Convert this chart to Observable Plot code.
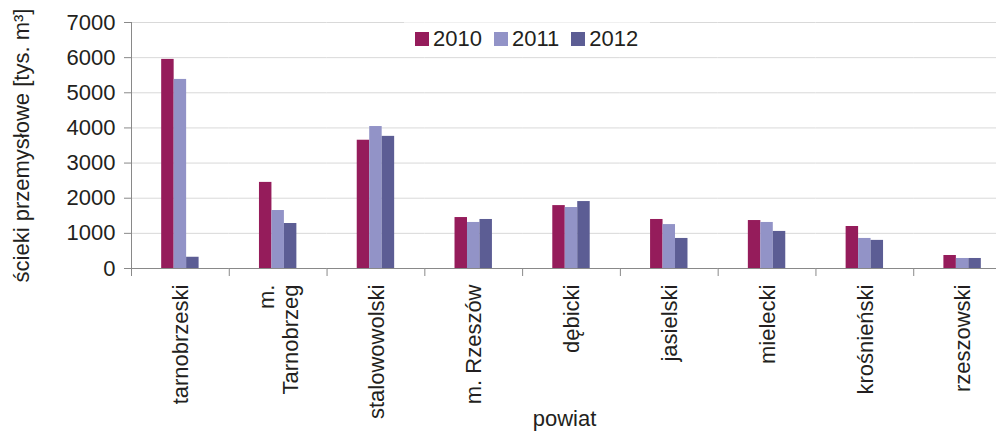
<!DOCTYPE html>
<html>
<head>
<meta charset="utf-8">
<script src="https://cdn.jsdelivr.net/npm/d3@7"></script>
<script src="https://cdn.jsdelivr.net/npm/@observablehq/plot@0.6"></script>
<style>
  html, body { margin: 0; padding: 0; background: #fff; overflow: hidden; }
  #wrap { position: relative; width: 996px; height: 431px; overflow: hidden;
          font-family: "Liberation Sans", Arial, sans-serif; color: #231f20; }
  #wrap svg { overflow: hidden; display: block; }
  #legend { position: absolute; left: 404px; top: 22px; width: 246px; height: 34px;
            background: rgba(255,255,255,0.6); display: flex; align-items: center;
            font-size: 22px; line-height: 1; }
  #legend .sw { display: inline-block; width: 14px; height: 14px; margin-right: 4px; }
  #legend .it { display: inline-flex; align-items: center; margin-left: 12px; }
  #legend .it:first-child { margin-left: 11px; }
</style>
</head>
<body>
<div id="wrap"></div>
<script>
// ---- data ----
const powiaty = ["tarnobrzeski", "m.\nTarnobrzeg", "stalowowolski", "m. Rzeszów", "dębicki",
                 "jasielski", "mielecki", "krośnieński", "rzeszowski"];
const years = ["2010", "2011", "2012"];
const v2010 = [5950, 2450, 3650, 1450, 1790, 1395, 1365, 1195, 370];
const v2011 = [5380, 1650, 4040, 1310, 1735, 1250, 1310, 855, 285];
const v2012 = [320, 1280, 3760, 1395, 1905, 855, 1055, 800, 285];
const yTicks = [0, 1000, 2000, 3000, 4000, 5000, 6000, 7000];
const colors = ["#951c5b", "#9293c7", "#5c5d94"];
const yTitle = "ścieki przemysłowe [tys. m³]";
const xTitle = "powiat";

const series = [v2010, v2011, v2012];
const data = powiaty.flatMap((p, i) => series.map((s, k) => ({powiat: p, rok: years[k], value: s[i]})));

const axisGray = "#898989";

const chart = Plot.plot({
  width: 996,
  height: 431,
  marginLeft: 131,
  marginRight: -15,
  marginTop: 22,
  marginBottom: 163,
  style: {fontFamily: "'Liberation Sans', Arial, sans-serif", fontSize: "22px", color: "#231f20", background: "transparent"},
  fx: {domain: powiaty, padding: 0, round: false},
  x: {domain: years, paddingInner: 0, paddingOuter: 2.42, align: 0.5, round: false, axis: null},
  y: {domain: [0, 7000]},
  color: {domain: years, range: colors},
  marks: [
    Plot.gridY(yTicks, {stroke: "#d9d9d9", strokeOpacity: 1}),
    Plot.barY(data, {fx: "powiat", x: "rok", y: "value", fill: "rok"}),
    Plot.ruleY([0], {stroke: axisGray}),
    Plot.frame({anchor: "left", stroke: axisGray, strokeOpacity: 1, insetTop: 246, insetBottom: -7}),
    Plot.frame({anchor: "left", stroke: axisGray, strokeOpacity: 1, insetBottom: -7, facetAnchor: "left"}),
    Plot.axisY(yTicks, {
      tickSize: 7, tickPadding: 9, stroke: axisGray, fill: "#231f20",
      tickFormat: d => String(d),
      label: yTitle, labelAnchor: "center", labelOffset: 118, labelArrow: "none"
    }),
    Plot.axisFx({
      anchor: "bottom",
      tickSize: 0, tickPadding: 16, tickRotate: -90, textAnchor: "end", lineAnchor: "middle",
      fill: "#231f20", lineHeight: 1.1, label: null
    }),
    Plot.text([xTitle], {
      facet: "super", frameAnchor: "bottom", lineAnchor: "bottom",
      dx: -7, dy: 157, fill: "#231f20", fontSize: 22
    })
  ]
});

const wrap = document.getElementById("wrap");
wrap.appendChild(chart);

const legend = document.createElement("div");
legend.id = "legend";
years.forEach((y, k) => {
  const it = document.createElement("span");
  it.className = "it";
  const sw = document.createElement("span");
  sw.className = "sw";
  sw.style.background = colors[k];
  const tx = document.createElement("span");
  tx.textContent = y;
  it.appendChild(sw);
  it.appendChild(tx);
  legend.appendChild(it);
});
wrap.appendChild(legend);
</script>
</body>
</html>
